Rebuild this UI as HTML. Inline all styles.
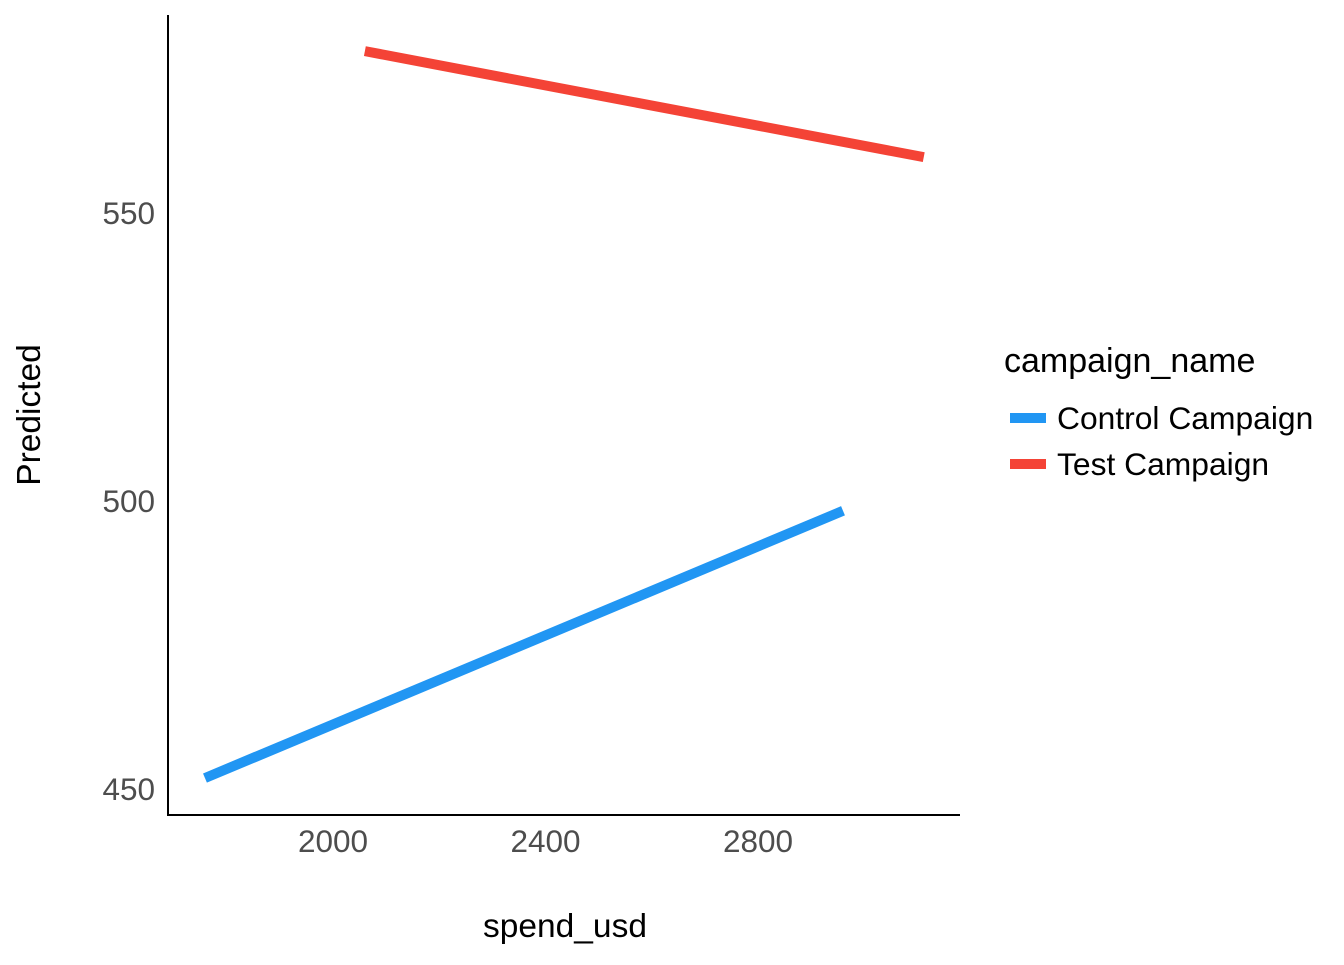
<!DOCTYPE html>
<html><head><meta charset="utf-8"><style>
body{margin:0;background:#fff;}
svg text{font-family:"Liberation Sans",Arial,sans-serif;}
</style></head><body>
<svg id="chart" width="1344" height="960" xmlns="http://www.w3.org/2000/svg">
<g id="axes"></g>
<g id="lines"></g>
<text x="565" y="937" font-size="33.5" text-anchor="middle" fill="#000">spend_usd</text>
<text transform="translate(40,415) rotate(-90)" font-size="33.5" text-anchor="middle" fill="#000">Predicted</text>
<g>
<text x="1004" y="372" font-size="34" fill="#000">campaign_name</text>
<g>
<line x1="1010" y1="418" x2="1046" y2="418" stroke="#2196F3" stroke-width="10"/>
<text x="1057" y="429" font-size="31.8" fill="#000">Control Campaign</text></g>
<g>
<line x1="1010" y1="464" x2="1046" y2="464" stroke="#F44336" stroke-width="10"/>
<text x="1057" y="475" font-size="31.8" fill="#000">Test Campaign</text></g>
</g>
</svg>
<script>
const xTicks=[2000,2400,2800];
const yTicks=[450,500,550];
const seriesNames=["Control Campaign","Test Campaign"];
const seriesColors=["#2196F3","#F44336"];
const controlX=[1759,2960];
const controlY=[451.9,498.3];
const testX=[2060,3112];
const testY=[578.1,559.7];
const xs=v=>333+(v-2000)*0.53125;
const ys=v=>501-(v-500)*5.76;
const NS="http://www.w3.org/2000/svg";
const axes=document.getElementById('axes');
function mk(tag,attrs,parent){const e=document.createElementNS(NS,tag);for(const k in attrs)e.setAttribute(k,attrs[k]);parent.appendChild(e);return e;}
const ya=mk('line',{x1:168,y1:15,x2:168,y2:816,stroke:'#000','stroke-width':2},axes);


const xa=mk('line',{x1:167,y1:815,x2:960,y2:815,stroke:'#000','stroke-width':2},axes);


xTicks.forEach(t=>{const e=mk('text',{x:xs(t),y:852,'font-size':31.5,'text-anchor':'middle',fill:'#4d4d4d'},axes);e.textContent=t;

});
yTicks.forEach(t=>{const e=mk('text',{x:155,y:ys(t)+11,'font-size':31.5,'text-anchor':'end',fill:'#4d4d4d'},axes);e.textContent=t;

});
const lines=document.getElementById('lines');
[[controlX,controlY],[testX,testY]].forEach((s,i)=>{
const l=mk('line',{x1:xs(s[0][0]),y1:ys(s[1][0]),x2:xs(s[0][1]),y2:ys(s[1][1]),stroke:seriesColors[i],'stroke-width':10},lines);


});
</script>
</body></html>
